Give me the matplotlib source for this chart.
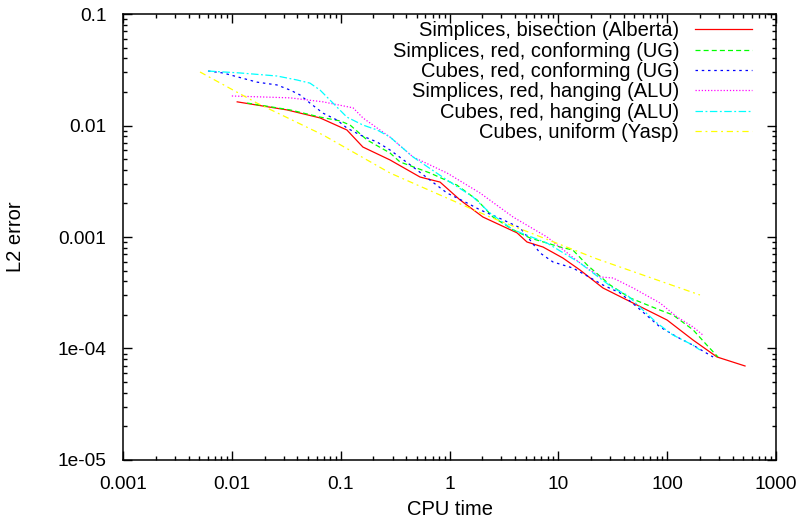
import numpy as np
import matplotlib
matplotlib.use("Agg")
import matplotlib.pyplot as plt
from matplotlib.ticker import FixedLocator, LogLocator, NullFormatter

plt.rcParams['font.family'] = ['Liberation Sans', 'DejaVu Sans']

# values (CPU time, L2 error)
alberta_t = [0.0112, 0.0321, 0.0646, 0.114, 0.160, 0.284, 0.536, 0.818, 1.25, 2.03,
             4.17, 5.15, 7.23, 11.0, 15.8, 25.7, 42.8, 99.8, 173, 287, 519]
alberta_e = [0.0163, 0.0138, 0.0117, 0.00912, 0.00641, 0.00491, 0.00345, 0.00311, 0.00215, 0.00151,
             0.00109, 0.000902, 0.000813, 0.000648, 0.000506, 0.000349, 0.000272, 0.000180, 0.000119,
             8.39e-5, 6.97e-5]

ug_simp_t = [0.0138, 0.0343, 0.0646, 0.0986, 0.122, 0.175, 0.284, 0.351, 0.662, 1.17, 1.79, 2.51,
             3.84, 5.49, 10.4, 13.6, 18.4, 29.9, 45.6, 85.9, 113, 173, 232, 293]
ug_simp_e = [0.0159, 0.0138, 0.0119, 0.0110, 0.0101, 0.00741, 0.00567, 0.00471, 0.00375, 0.00292,
             0.00215, 0.00151, 0.00116, 0.000980, 0.000813, 0.000764, 0.000561, 0.000371, 0.000284,
             0.000221, 0.000200, 0.000147, 0.000107, 8.39e-5]

ug_cube_t = [0.00604, 0.0083, 0.017, 0.026, 0.0343, 0.0423, 0.0522, 0.0689, 0.0925, 0.114, 0.151,
             0.216, 0.284, 0.462, 0.662, 0.949, 1.45, 1.91, 2.73, 4.45, 5.49, 6.79, 8.93, 13.6, 18.4,
             25.7, 36.9, 52.8, 85.9, 123, 173, 264]
ug_cube_e = [0.0308, 0.0296, 0.0245, 0.0231, 0.0208, 0.0188, 0.0159, 0.0129, 0.0112, 0.0095, 0.00822,
             0.00711, 0.00603, 0.00425, 0.00324, 0.00248, 0.00202, 0.00175, 0.00151, 0.00121, 0.00094,
             0.000719, 0.000597, 0.000527, 0.000447, 0.000371, 0.000315, 0.000236, 0.000156, 0.000127,
             0.000107, 8.39e-5]

alu_simp_t = [0.01, 0.0343, 0.0689, 0.130, 0.160, 0.216, 0.284, 0.462, 0.949, 1.91, 3.84, 7.87,
              15.8, 24.2, 31.8, 48.6, 85.9, 123, 173, 213]
alu_simp_e = [0.0184, 0.0177, 0.0163, 0.0144, 0.0117, 0.0095, 0.00788, 0.00522, 0.00375, 0.00248,
              0.00151, 0.001, 0.000585, 0.000438, 0.000429, 0.000349, 0.000256, 0.000192, 0.000156,
              0.000132]

alu_cube_t = [0.00604, 0.0119, 0.026, 0.0397, 0.0522, 0.0646, 0.0798, 0.114, 0.160, 0.216, 0.284,
              0.462, 0.949, 1.64, 2.36, 3.84, 7.87, 15.8, 20.8, 31.8, 42.8, 60.0, 80.7, 113, 173, 200]
alu_cube_e = [0.0308, 0.0296, 0.0278, 0.0256, 0.024, 0.0208, 0.0169, 0.0119, 0.0101, 0.00912, 0.00788,
              0.00522, 0.00324, 0.00229, 0.00164, 0.00116, 0.000883, 0.000585, 0.000476, 0.000349,
              0.000302, 0.000221, 0.000169, 0.000132, 0.000107, 9.7e-5]

yasp_t = [0.0051, 0.017, 0.0689, 0.284, 2.36, 22.7, 200]
yasp_e = [0.0302, 0.0159, 0.00822, 0.00375, 0.00151, 0.000635, 0.000302]

fig = plt.figure(figsize=(8.05, 5.19), dpi=100)
ax = fig.add_axes([0.1528, 0.1137, 0.8112, 0.8593])

lw = 0.9
ax.plot(alberta_t, alberta_e, color='#ff0000', lw=lw, label='Simplices, bisection (Alberta)')
ax.plot(ug_simp_t, ug_simp_e, color='#00ff00', lw=lw, ls=(0, (4, 2.5)), label='Simplices, red, conforming (UG)')
ax.plot(ug_cube_t, ug_cube_e, color='#0000ff', lw=lw, ls=(0, (2, 3)), label='Cubes, red, conforming (UG)')
ax.plot(alu_simp_t, alu_simp_e, color='#ff00ff', lw=lw, ls=(0, (1, 1.5)), label='Simplices, red, hanging (ALU)')
ax.plot(alu_cube_t, alu_cube_e, color='#00ffff', lw=lw, ls=(0, (6, 2, 1.5, 2)), label='Cubes, red, hanging (ALU)')
ax.plot(yasp_t, yasp_e, color='#ffff00', lw=lw, ls=(0, (5, 3, 1.5, 3)), label='Cubes, uniform (Yasp)')

ax.set_xscale('log')
ax.set_yscale('log')
ax.set_xlim(0.001, 1000)
ax.set_ylim(1e-5, 0.1)

xticks = [0.001, 0.01, 0.1, 1, 10, 100, 1000]
xlabels = ['0.001', '0.01', '0.1', '1', '10', '100', '1000']
yticks = [1e-5, 1e-4, 0.001, 0.01, 0.1]
ylabels = ['1e-05', '1e-04', '0.001', '0.01', '0.1']
ax.xaxis.set_major_locator(FixedLocator(xticks))
ax.set_xticklabels(xlabels)
ax.yaxis.set_major_locator(FixedLocator(yticks))
ax.set_yticklabels(ylabels)
ax.xaxis.set_minor_locator(LogLocator(base=10, subs=np.arange(2, 10)))
ax.yaxis.set_minor_locator(LogLocator(base=10, subs=np.arange(2, 10)))
ax.xaxis.set_minor_formatter(NullFormatter())
ax.yaxis.set_minor_formatter(NullFormatter())
ax.tick_params(which='both', direction='in', top=True, right=True, labelsize=13.8, width=1)
ax.tick_params(which='major', length=6.5)
ax.tick_params(axis='y', which='major', pad=12)
ax.tick_params(axis='x', which='major', pad=11.8)
ax.tick_params(which='minor', length=3.2)
for s in ax.spines.values():
    s.set_linewidth(1.1)

ax.set_xlabel('CPU time', fontsize=14.5)
ax.xaxis.set_label_coords(0.5, -0.110)
ax.xaxis.label.set_va('center')
ax.set_ylabel('L2 error', fontsize=14.5)
ax.yaxis.set_label_coords(-0.164, 0.5)
ax.yaxis.label.set_va('center')

ax.legend(loc='upper right', bbox_to_anchor=(0.963, 0.984), frameon=False, markerfirst=False,
          fontsize=14.5, handlelength=2.8, labelspacing=0.07, borderaxespad=0, borderpad=0,
          handletextpad=0.8)

fig.savefig('out.png', dpi=100)
